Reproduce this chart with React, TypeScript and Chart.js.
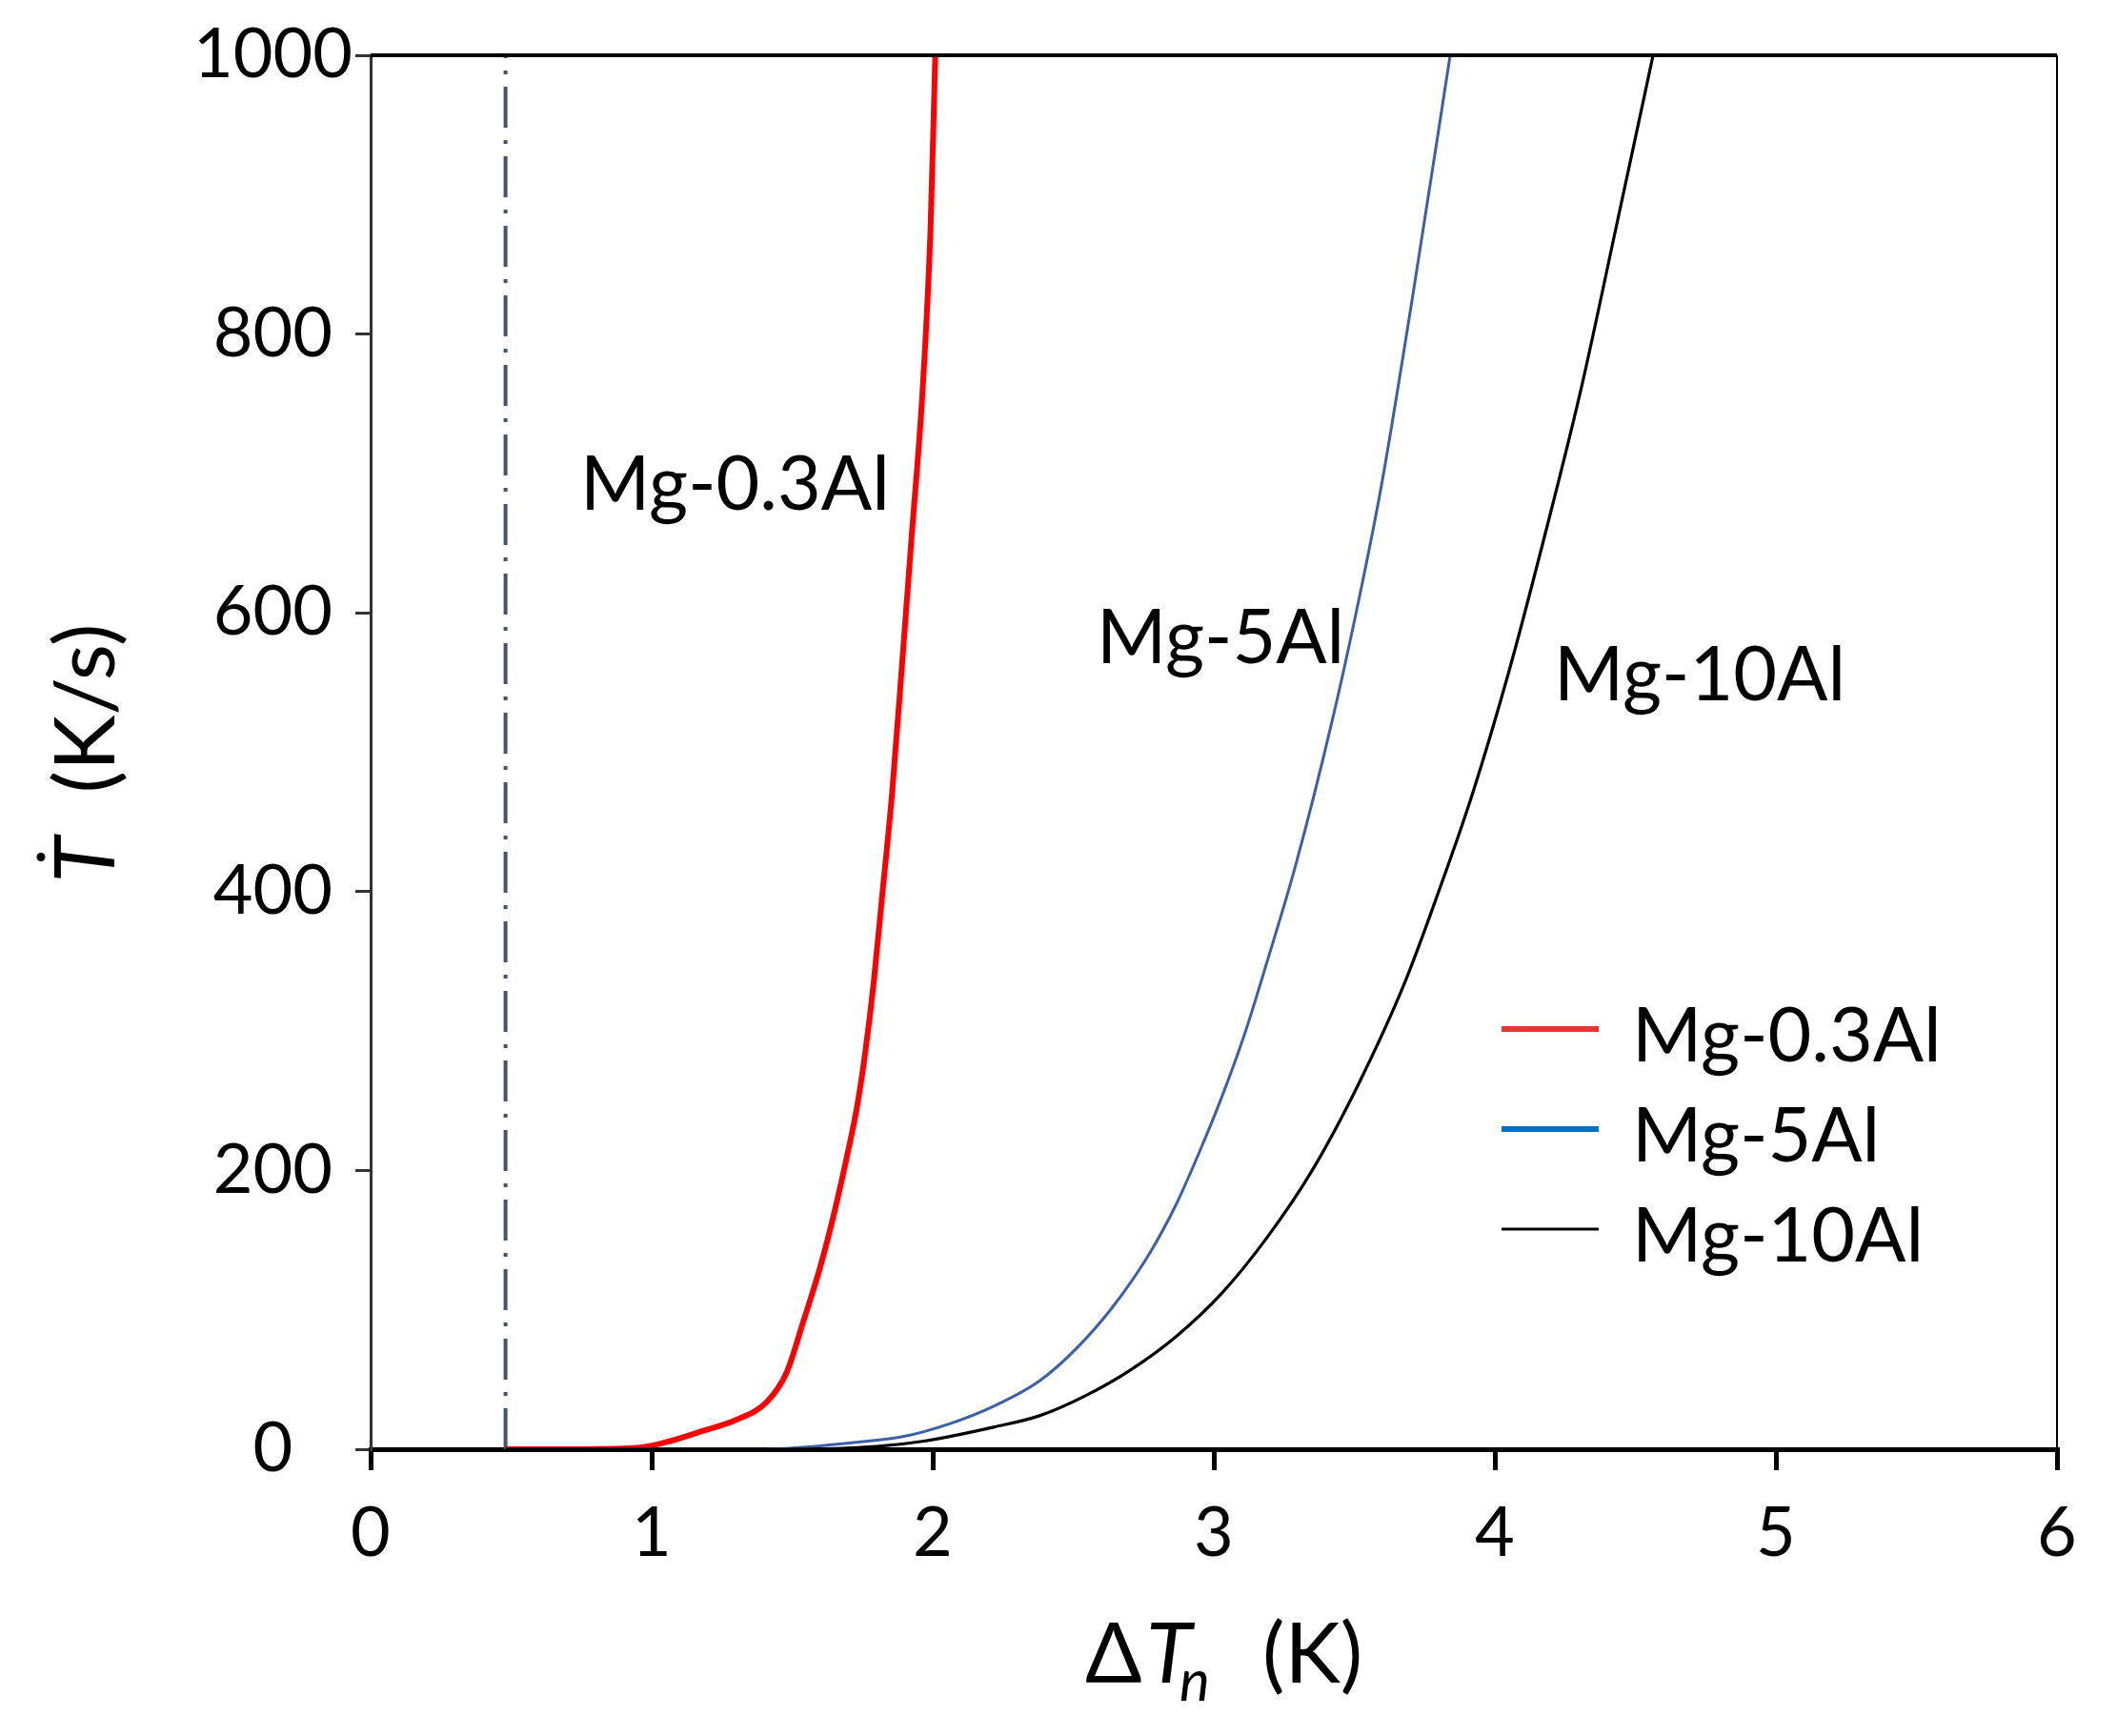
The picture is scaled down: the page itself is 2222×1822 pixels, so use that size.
import { useEffect, useRef } from 'react';
import { Chart, registerables } from 'chart.js';

Chart.register(...registerables);

const FONT = 'Lato, "Open Sans", sans-serif';

// Mg-0.3Al
const RED_X = [0.48, 0.7, 0.95, 1.05, 1.18, 1.3, 1.41, 1.48, 1.54, 1.6, 1.65, 1.7, 1.73, 1.76, 1.79, 1.82, 1.855, 1.89, 1.925, 1.963, 1.992, 2.009];
const RED_Y = [0, 0, 1, 5, 13, 21, 34, 55, 92, 131, 170, 215, 245, 285, 335, 397, 470, 561, 655, 757, 875, 1000];

// Mg-5Al
const BLUE_X = [0.48, 1.4, 1.73, 1.894, 2.057, 2.219, 2.38, 2.51, 2.64, 2.77, 2.867, 2.963, 3.029, 3.11, 3.19, 3.29, 3.424, 3.527, 3.597, 3.709, 3.841];
const BLUE_Y = [0, 0, 5, 9, 18, 31, 49, 72, 102, 140, 176, 220, 253, 298, 350, 418, 525, 620, 692, 829, 1000];

// Mg-10Al
const BLACK_X = [0.48, 1.5, 1.8, 1.975, 2.22, 2.38, 2.54, 2.705, 2.867, 3.029, 3.19, 3.35, 3.515, 3.68, 3.8, 3.92, 4.046, 4.177, 4.306, 4.433, 4.563];
const BLACK_Y = [0, 0, 2, 6, 16, 24, 38, 57, 81, 112, 152, 200, 262, 335, 400, 470, 555, 655, 760, 878, 1000];

// vertical dash-dot marker
const MARK_X = [0.48, 0.48];
const MARK_Y = [0, 1000];

const SERIES_NAMES = ['Mg-0.3Al', 'Mg-5Al', 'Mg-10Al'];
const LEGEND_COLORS = ['#ee3333', '#0070c0', '#000000'];
const LEGEND_WIDTHS = [6, 6, 3];

// in-plot labels (data coordinates of text start / baseline)
const LABEL_TEXT = ['Mg-0.3Al', 'Mg-5Al', 'Mg-10Al'];
const LABEL_X = [0.746, 2.583, 4.21];
const LABEL_Y = [674, 564, 537];

const X_TICKS = [0, 1, 2, 3, 4, 5, 6];
const Y_TICKS = [0, 200, 400, 600, 800, 1000];

const pts = (xs: number[], ys: number[]) => xs.map((x, i) => ({ x, y: ys[i] }));

const overlay = {
  id: 'overlay',
  afterDraw(chart: Chart) {
    const { ctx, chartArea: a, scales } = chart;
    const xs = scales.x;
    const ys = scales.y;
    ctx.save();

    // top and right frame
    ctx.strokeStyle = '#000';
    ctx.lineWidth = 4;
    ctx.beginPath();
    ctx.moveTo(a.left, a.top);
    ctx.lineTo(a.right, a.top);
    ctx.stroke();
    ctx.lineWidth = 2;
    ctx.beginPath();
    ctx.moveTo(a.right, a.top);
    ctx.lineTo(a.right, a.bottom);
    ctx.stroke();

    ctx.fillStyle = '#000';
    ctx.textBaseline = 'alphabetic';
    ctx.textAlign = 'left';

    // curve labels
    ctx.font = `79px ${FONT}`;
    LABEL_TEXT.forEach((t, i) => {
      ctx.fillText(t, xs.getPixelForValue(LABEL_X[i]), ys.getPixelForValue(LABEL_Y[i]));
    });

    // legend
    SERIES_NAMES.forEach((name, i) => {
      const ly = a.top + 1022 + i * 105;
      ctx.strokeStyle = LEGEND_COLORS[i];
      ctx.lineWidth = LEGEND_WIDTHS[i];
      ctx.beginPath();
      ctx.moveTo(a.left + 1187, ly);
      ctx.lineTo(a.left + 1289, ly);
      ctx.stroke();
      ctx.fillText(name, a.left + 1324, ly + 34);
    });

    // x title: ΔT_n  (K)
    const cx = (a.left + a.right) / 2;
    const by = 1766;
    ctx.font = `88px ${FONT}`;
    ctx.fillText('\u0394', cx - 135, by);
    ctx.font = `italic 88px ${FONT}`;
    ctx.fillText('T', cx - 71, by);
    ctx.font = `italic 60px ${FONT}`;
    ctx.fillText('n', cx - 36, by + 19);
    ctx.font = `88px ${FONT}`;
    ctx.fillText('(K)', cx + 51, by);

    // y title: T-dot  (K/s)
    const cy = (a.top + a.bottom) / 2;
    ctx.translate(a.left - 269, cy + 137);
    ctx.rotate(-Math.PI / 2);
    ctx.font = `italic 88px ${FONT}`;
    ctx.fillText('T', 0, 0);
    ctx.beginPath();
    ctx.arc(27, -77, 4.5, 0, Math.PI * 2);
    ctx.fill();
    ctx.font = `88px ${FONT}`;
    ctx.fillText('(K/s)', 94, 0);

    ctx.restore();
  },
};

export default function App() {
  const canvasRef = useRef<HTMLCanvasElement>(null);

  useEffect(() => {
    if (!canvasRef.current) return;
    const chart = new Chart(canvasRef.current, {
      type: 'line',
      data: {
        datasets: [
          {
            label: 'marker',
            data: pts(MARK_X, MARK_Y),
            borderColor: '#44546a',
            borderWidth: 4,
            borderDash: [43, 13, 4, 13],
            pointRadius: 0,
            order: 3,
          },
          {
            label: SERIES_NAMES[0],
            data: pts(RED_X, RED_Y),
            borderColor: '#ff0000',
            borderWidth: 6,
            pointRadius: 0,
            cubicInterpolationMode: 'monotone',
            order: 2,
          },
          {
            label: SERIES_NAMES[1],
            data: pts(BLUE_X, BLUE_Y),
            borderColor: '#3d5fa8',
            borderWidth: 3,
            pointRadius: 0,
            cubicInterpolationMode: 'monotone',
            order: 1,
          },
          {
            label: SERIES_NAMES[2],
            data: pts(BLACK_X, BLACK_Y),
            borderColor: '#000000',
            borderWidth: 3.2,
            pointRadius: 0,
            cubicInterpolationMode: 'monotone',
            order: 0,
          },
        ],
      },
      options: {
        animation: false,
        responsive: false,
        devicePixelRatio: 1,
        layout: { padding: { top: 58, right: 63, bottom: 0, left: 0 } },
        plugins: { legend: { display: false }, tooltip: { enabled: false } },
        scales: {
          x: {
            type: 'linear',
            min: 0,
            max: 6,
            afterBuildTicks: (s: any) => {
              s.ticks = X_TICKS.map((v) => ({ value: v }));
            },
            afterFit: (s: any) => {
              s.height = 301;
            },
            border: { color: '#000', width: 5 },
            grid: { drawOnChartArea: false, color: '#000', lineWidth: 5, tickLength: 22 },
            ticks: {
              color: '#000',
              font: { family: FONT, size: 72 },
              padding: 24,
              maxRotation: 0,
              callback: (v: any) => String(v),
            },
          },
          y: {
            type: 'linear',
            min: 0,
            max: 1000,
            afterBuildTicks: (s: any) => {
              s.ticks = Y_TICKS.map((v) => ({ value: v }));
            },
            afterFit: (s: any) => {
              s.width = 389;
            },
            border: { color: '#333', width: 3 },
            grid: { drawOnChartArea: false, color: '#333', lineWidth: 3, tickLength: 16 },
            ticks: {
              color: '#000',
              font: { family: FONT, size: 72 },
              padding: 3,
              crossAlign: 'center',
              callback: (v: any) => String(v),
            },
          },
        },
      },
      plugins: [overlay],
    });
    return () => chart.destroy();
  }, []);

  return (
    <div style={{ position: 'absolute', left: 0, top: 0, width: 2222, height: 1822, background: '#fff' }}>
      <canvas ref={canvasRef} width={2222} height={1822} />
    </div>
  );
}
